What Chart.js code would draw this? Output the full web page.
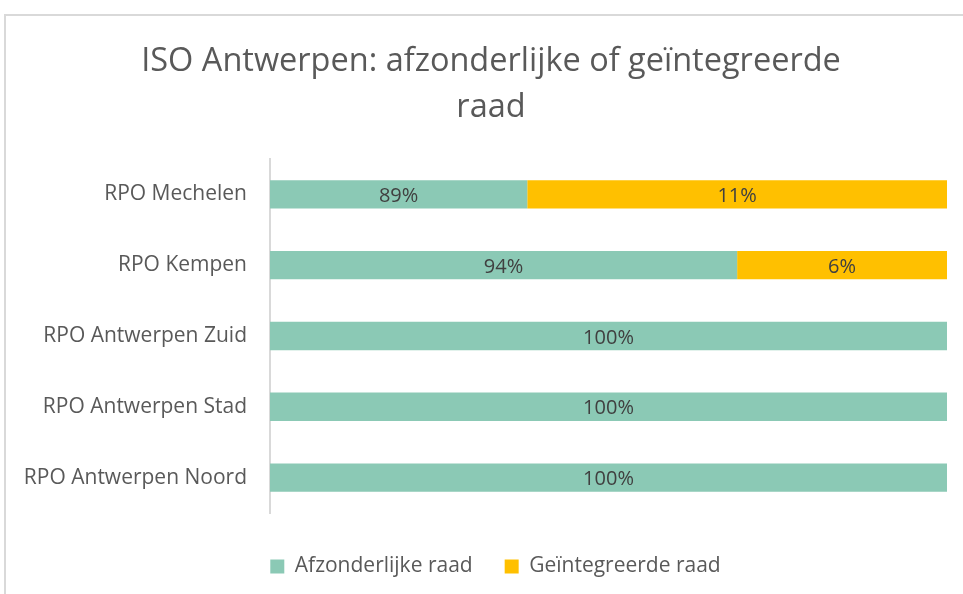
<!DOCTYPE html>
<html>
<head>
<meta charset="utf-8">
<script src="https://cdn.jsdelivr.net/npm/chart.js@4/dist/chart.umd.min.js"></script>
<style>
  html, body { margin: 0; padding: 0; background: #ffffff; overflow: hidden; }
  #wrap { position: relative; width: 963px; height: 594px; overflow: hidden; }
  #frame { position: absolute; left: 4px; top: 14px; width: 1200px; height: 800px;
           border-left: 2px solid #d9d9d9; border-top: 2px solid #d9d9d9; }
  canvas { position: absolute; left: 0; top: 0; }
</style>
</head>
<body>
<div id="wrap">
  <div id="frame"></div>
  <canvas id="c" width="963" height="594"></canvas>
</div>
<script>
// Categories, top to bottom
const categories = ['RPO Mechelen', 'RPO Kempen', 'RPO Antwerpen Zuid', 'RPO Antwerpen Stad', 'RPO Antwerpen Noord'];
// Bar lengths as drawn in the picture (share of the full bar, %)
const afzonderlijkeValues = [38, 69, 100, 100, 100];
const geintegreerdeValues = [62, 31, 0, 0, 0];
// Data label texts as printed on the bars
const afzonderlijkeLabels = ['89%', '94%', '100%', '100%', '100%'];
const geintegreerdeLabels = ['11%', '6%', '', '', ''];
const seriesNames = ['Afzonderlijke raad', 'Geïntegreerde raad'];
const titleLines = ['ISO Antwerpen: afzonderlijke of geïntegreerde', 'raad'];

const FONT = "'Open Sans', sans-serif";

const barLabelPlugin = {
  id: 'barLabels',
  afterDatasetsDraw(chart) {
    const ctx = chart.ctx;
    ctx.save();
    ctx.font = "20px " + FONT;
    ctx.fillStyle = '#404040';
    ctx.textAlign = 'center';
    ctx.textBaseline = 'middle';
    chart.data.datasets.forEach((ds, di) => {
      const meta = chart.getDatasetMeta(di);
      meta.data.forEach((bar, i) => {
        const txt = ds.labelTexts[i];
        if (!txt) return;
        const left = Math.min(bar.x, bar.base);
        const right = Math.max(bar.x, bar.base);
        ctx.fillText(txt, (left + right) / 2, bar.y + 2);
      });
    });
    ctx.restore();
  }
};

// Centre title and legend on the full frame (which runs past the right edge)
const shiftPlugin = {
  id: 'shiftBoxes',
  afterLayout(chart) {
    if (chart.titleBlock) { chart.titleBlock.left += 17.5; chart.titleBlock.right += 17.5; }
    if (chart.legend) { chart.legend.left += 22; chart.legend.right += 22; }
  }
};

new Chart(document.getElementById('c'), {
  type: 'bar',
  data: {
    labels: categories,
    datasets: [
      { label: seriesNames[0], data: afzonderlijkeValues, labelTexts: afzonderlijkeLabels,
        backgroundColor: '#8BC9B5', borderWidth: 0 },
      { label: seriesNames[1], data: geintegreerdeValues, labelTexts: geintegreerdeLabels,
        backgroundColor: '#FFC000', borderWidth: 0 }
    ]
  },
  options: {
    indexAxis: 'y',
    responsive: false,
    animation: false,
    devicePixelRatio: 1,
    layout: { padding: { top: 38, right: 16, bottom: 7, left: 0 } },
    datasets: { bar: { barPercentage: 0.4, categoryPercentage: 1.0 } },
    scales: {
      x: {
        stacked: true, min: 0, max: 100,
        display: true,
        grid: { display: false, drawTicks: false },
        border: { display: false },
        ticks: { display: false },
        afterFit: s => { s.height = 11; }
      },
      y: {
        stacked: true,
        grid: { display: false, drawTicks: false },
        border: { display: true, color: '#d9d9d9', width: 2 },
        ticks: { color: '#595959', font: { family: FONT, size: 21 }, padding: 23 },
        afterFit: s => { s.width = 270; }
      }
    },
    plugins: {
      title: {
        display: true,
        text: titleLines,
        color: '#595959',
        font: { family: FONT, size: 32.5, weight: 'normal', lineHeight: 1.43 },
        padding: { top: 0, bottom: 28 }
      },
      legend: {
        position: 'bottom',
        labels: {
          color: '#595959',
          font: { family: FONT, size: 21 },
          boxWidth: 14, boxHeight: 14,
          padding: 32
        }
      },
      tooltip: { enabled: false }
    }
  },
  plugins: [barLabelPlugin, shiftPlugin]
});
</script>
</body>
</html>
